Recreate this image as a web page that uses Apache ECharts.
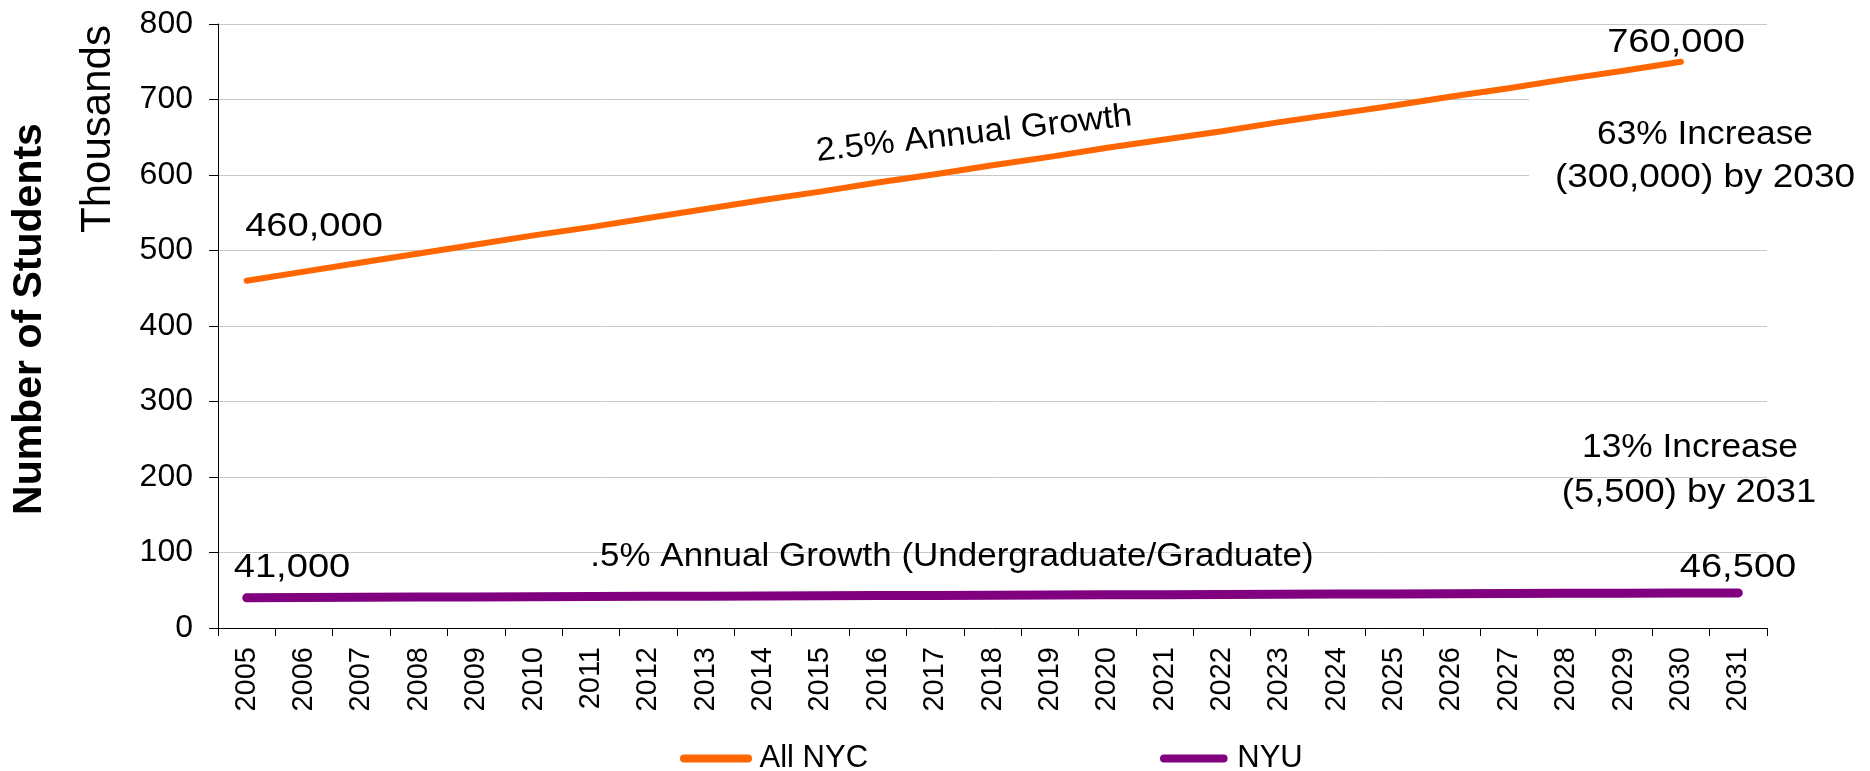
<!DOCTYPE html>
<html>
<head>
<meta charset="utf-8">
<title>Number of Students</title>
<script src="https://cdn.jsdelivr.net/npm/echarts@6/dist/echarts.min.js"></script>
<style>
  html, body { margin: 0; padding: 0; background: #fff; }
  #chart { width: 1870px; height: 771px; }
</style>
</head>
<body>
<div id="chart"></div>
<script>
const years = ['2005', '2006', '2007', '2008', '2009', '2010', '2011', '2012', '2013',
  '2014', '2015', '2016', '2017', '2018', '2019', '2020', '2021', '2022', '2023',
  '2024', '2025', '2026', '2027', '2028', '2029', '2030', '2031']

// thousands of students
const allNyc = [460, 472, 484, 496, 508, 520, 531, 543, 555, 567, 578, 590, 601,
  613, 624, 636, 647, 658, 670, 681, 692, 704, 715, 727, 738, 750, null]
const nyu = [40.0, 40.4, 40.6, 40.9, 41.1, 41.4, 41.6, 41.9, 42.1, 42.4, 42.6, 42.9,
  43.1, 43.4, 43.6, 43.9, 44.1, 44.4, 44.6, 44.9, 45.1, 45.4, 45.6, 45.9, 46.1, 46.3, 46.5]

const seriesNames = ['All NYC', 'NYU']
const yMin = 0
const yMax = 800
const yStep = 100

const FONT = '"Liberation Sans", Arial, sans-serif'
const ORANGE = '#ff6600'
const PURPLE = '#800080'

const chart = echarts.init(document.getElementById('chart'))

const note = (text, x, y, size, extra) => Object.assign({
  type: 'text',
  x: x,
  y: y,
  z: 100,
  style: {
    text: text,
    fontFamily: FONT,
    fontSize: size,
    fill: '#000',
    align: 'center',
    verticalAlign: 'middle'
  }
}, extra || {})

const option = {
  animation: false,
  backgroundColor: '#fff',
  grid: {
    left: 218,
    right: 103,
    top: 24,
    bottom: 143
  },
  legend: {
    data: [
      { name: seriesNames[0], icon: 'path://M4,0 L68,0 A4,4 0 0 1 68,8 L4,8 A4,4 0 0 1 4,0 Z' },
      { name: seriesNames[1], icon: 'path://M4.5,0 L71.5,0 A4.5,4.5 0 0 1 71.5,9 L4.5,9 A4.5,4.5 0 0 1 4.5,0 Z' }
    ],
    left: 675,
    top: 738,
    itemWidth: 73,
    itemHeight: 8,
    itemGap: 292,
    textStyle: {
      fontFamily: FONT,
      fontSize: 31,
      color: '#000',
      padding: [0, 0, 0, 2]
    }
  },
  xAxis: {
    type: 'category',
    data: years,
    boundaryGap: true,
    axisLine: { lineStyle: { color: '#000', width: 1 } },
    axisTick: { show: true, length: 8, lineStyle: { color: '#000' } },
    axisLabel: {
      rotate: 90,
      interval: 0,
      margin: 19,
      fontFamily: FONT,
      fontSize: 29,
      color: '#000'
    },
    splitLine: { show: false }
  },
  yAxis: {
    type: 'value',
    min: yMin,
    max: yMax,
    interval: yStep,
    axisLine: { show: true, lineStyle: { color: '#000', width: 1 } },
    axisTick: { show: true, length: 9, lineStyle: { color: '#000' } },
    axisLabel: {
      margin: 25,
      fontFamily: FONT,
      fontSize: 32,
      color: '#000'
    },
    splitLine: { lineStyle: { color: '#c8c8c8', width: 1 } }
  },
  series: [
    {
      name: seriesNames[0],
      type: 'line',
      data: allNyc,
      showSymbol: false,
      symbol: 'none',
      itemStyle: { color: ORANGE },
      lineStyle: { color: ORANGE, width: 6, cap: 'round', join: 'round' },
      z: 3
    },
    {
      name: seriesNames[1],
      type: 'line',
      data: nyu,
      showSymbol: false,
      symbol: 'none',
      itemStyle: { color: PURPLE },
      lineStyle: { color: PURPLE, width: 9, cap: 'round', join: 'round' },
      z: 4
    }
  ],
  graphic: [
    // white box behind the "63% Increase" note hides the grid lines
    {
      type: 'rect',
      z: 50,
      shape: { x: 1529, y: 90, width: 341, height: 112 },
      style: { fill: '#fff' }
    },
    note('Number of Students', 30, 319, 41, { rotation: Math.PI / 2, style: { text: 'Number of Students', fontFamily: FONT, fontSize: 41, fontWeight: 'bold', fill: '#000', align: 'center', verticalAlign: 'middle' } }),
    note('Thousands', 98, 129, 42, { rotation: Math.PI / 2 }),
    note('460,000', 314, 227, 34, { scaleX: 1.12 }),
    note('760,000', 1676, 43, 34, { scaleX: 1.12 }),
    note('2.5% Annual Growth', 974, 134, 33, { rotation: 0.113, scaleX: 1.05 }),
    note('63% Increase', 1705, 135, 33, { scaleX: 1.07 }),
    note('(300,000) by 2030', 1705, 178, 33, { scaleX: 1.12 }),
    note('13% Increase', 1690, 448, 33, { scaleX: 1.07 }),
    note('(5,500) by 2031', 1689, 493, 33, { scaleX: 1.1 }),
    note('41,000', 292, 568, 34, { scaleX: 1.12 }),
    note('46,500', 1738, 568, 34, { scaleX: 1.12 }),
    note('.5% Annual Growth (Undergraduate/Graduate)', 952, 557, 33, { scaleX: 1.06 })
  ]
}

chart.setOption(option)
</script>
</body>
</html>
